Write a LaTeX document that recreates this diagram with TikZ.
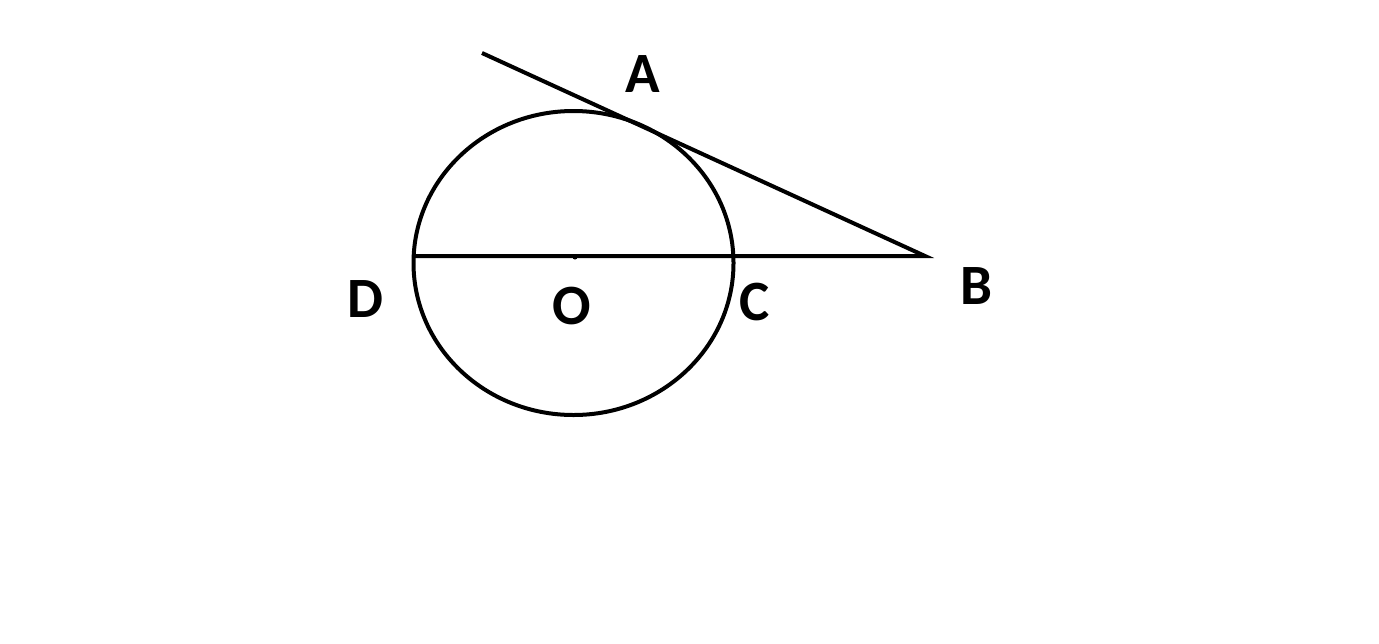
\documentclass[tikz,border=0pt]{standalone}
\usepackage{fontspec}
\setmainfont{Carlito}

\begin{document}
\begin{tikzpicture}[x=0.5pt,y=-0.5pt,line width=2pt,
  lbl/.style={font=\fontsize{28.5}{30}\selectfont\bfseries}]
  \useasboundingbox (0,0) rectangle (1379,643);
  \coordinate (ctr) at (573.5,263);
  \coordinate (T) at (482,53);
  \coordinate (B) at (925,256);
  \coordinate (D) at (414,256);
  \coordinate (O) at (575,257);
  \draw (ctr) ellipse [x radius=160,y radius=152];
  \draw (T) -- (B) -- (D);
  \fill (O) circle (2.5);
  \node[lbl] (la) at (643,74) {A};
  \node[lbl] (lb) at (976,286) {B};
  \node[lbl] (lc) at (755,302) {C};
  \node[lbl] (ld) at (365,299) {D};
  \node[lbl] (lo) at (572,306) {O};
\end{tikzpicture}
\end{document}
